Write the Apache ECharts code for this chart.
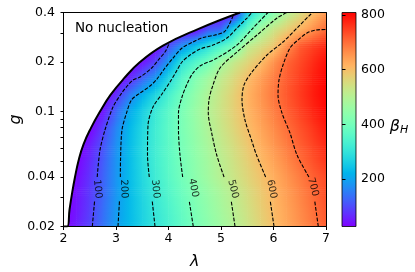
<!DOCTYPE html>
<html><head><meta charset="utf-8">
<script src="https://cdn.jsdelivr.net/npm/echarts@6/dist/echarts.min.js"></script>
<style>html,body{margin:0;padding:0;background:#fff}#c{width:415px;height:272px}</style>
</head><body><div id="c"></div>
<script>
// ---- data ----
const lambdaValues = [2.0,2.25,2.5,2.75,3.0,3.25,3.5,3.75,4.0,4.25,4.5,4.75,5.0,5.25,5.5,5.75,6.0,6.25,6.5,6.75,7.0];
const gValues = [0.02,0.0252,0.0317,0.04,0.0502,0.0632,0.0796,0.1,0.1262,0.1589,0.2,0.2518,0.317,0.4];
const betaAtG0020 = [20,57,93,141,192,230,266,301,335,369,403,435,466,498,532,566,600,630,659,688,717];
const betaAtG0025 = [20,48,87,136,188,229,268,306,341,377,412,444,476,508,540,573,605,635,664,694,723];
const betaAtG0032 = [20,44,83,128,183,229,272,312,349,386,420,452,484,516,548,580,611,641,671,701,730];
const betaAtG0040 = [20,35,76,124,181,231,277,320,360,399,435,469,504,533,562,591,621,652,682,712,735];
const betaAtG0050 = [15,25,68,118,179,231,280,323,364,403,438,473,508,540,572,604,635,667,699,728,755];
const betaAtG0063 = [15,20,54,107,174,230,280,324,365,406,444,482,518,551,585,618,651,683,714,742,770];
const betaAtG0080 = [10,15,25,87,161,225,275,322,367,410,450,491,528,564,599,632,664,697,727,755,785];
const betaAtG0100 = [10,12,20,48,129,208,261,313,362,409,454,498,536,573,609,644,678,712,742,772,800];
const betaAtG0126 = [10,10,15,22,70,150,219,275,333,394,443,491,533,573,613,650,687,720,750,780,805];
const betaAtG0159 = [10,10,12,15,20,61,127,190,275,353,418,469,517,558,600,641,681,717,747,777,805];
const betaAtG0200 = [10,10,10,12,15,20,46,95,190,297,348,398,470,522,561,599,654,706,736,766,795];
const betaAtG0252 = [10,10,10,10,12,15,20,25,100,172,233,286,339,392,508,546,585,657,717,745,770];
const betaAtG0317 = [10,10,10,10,10,10,10,10,12,15,25,110,130,280,370,470,530,571,612,655,700];
const betaAtG0400 = [10,10,10,10,10,10,10,10,10,10,10,12,15,25,265,352,429,498,549,599,650];
const betaRows = [betaAtG0020,betaAtG0025,betaAtG0032,betaAtG0040,betaAtG0050,betaAtG0063,betaAtG0080,
                  betaAtG0100,betaAtG0126,betaAtG0159,betaAtG0200,betaAtG0252,betaAtG0317,betaAtG0400];

// contour lines [lambda, g]; null = gap where the inline label sits
const contour100 = [[2.549,0.02],[2.592,0.0286],null,[2.642,0.04],[2.695,0.0583],[2.79,0.0772],[2.943,0.1065],[3.109,0.1296],[3.229,0.145],[3.324,0.1555],[3.457,0.1621],[3.68,0.1839],[3.806,0.2057],[3.933,0.23],[4.01,0.2574]];
const contour200 = [[3.038,0.02],[3.066,0.0286],null,[3.083,0.04],[3.086,0.0507],[3.114,0.0772],[3.2,0.0979],[3.295,0.1175],[3.457,0.1296],[3.648,0.1429],[3.781,0.1577],[3.933,0.1839],[4.086,0.2114],[4.257,0.2432],[4.467,0.2646],[4.657,0.2818],[4.886,0.2918],[5.057,0.3044],[5.152,0.3358],[5.229,0.3808]];
const contour300 = [[3.743,0.02],[3.69,0.0286],null,[3.634,0.04],[3.6,0.0544],[3.61,0.0828],[3.705,0.1065],[3.876,0.1278],[4.029,0.1512],[4.143,0.1739],[4.257,0.2],[4.41,0.2206],[4.6,0.2398],[4.848,0.2538],[5.114,0.2798],[5.305,0.3218],[5.495,0.3702],[5.59,0.4]];
const contour400 = [[4.472,0.02],[4.395,0.0286],null,[4.27,0.04],[4.219,0.0544],[4.19,0.0772],[4.19,0.0979],[4.257,0.1225],[4.371,0.1512],[4.467,0.1715],[4.6,0.1891],[4.924,0.2114],[5.305,0.2538],[5.61,0.3218],[5.895,0.4]];
const contour500 = [[5.267,0.02],[5.195,0.0286],null,[5.058,0.04],[4.918,0.0544],[4.823,0.074],[4.758,0.0979],[4.771,0.1175],[4.829,0.139],[4.981,0.1839],[5.305,0.23],[5.686,0.2918],[6.067,0.3702],[6.257,0.4]];
const contour600 = [[6.01,0.02],[5.938,0.0286],null,[5.85,0.04],[5.676,0.0544],[5.581,0.0671],[5.457,0.0888],[5.4,0.1175],[5.438,0.145],[5.59,0.1739],[5.876,0.2206],[6.181,0.2646],[6.505,0.3358],[6.695,0.3862],[6.752,0.4]];
const contour700 = [[6.853,0.02],[6.785,0.0286],null,[6.675,0.04],[6.448,0.0544],[6.314,0.074],[6.162,0.0979],[6.086,0.126],[6.105,0.1555],[6.181,0.1918],[6.314,0.2432],[6.467,0.2722],[6.638,0.3002],[6.81,0.313],[7.0,0.3152]];
const contourLevels = [100,200,300,400,500,600,700];
const contourLabelAt = [[2.648,0.0338],[3.152,0.0338],[3.752,0.0338],[4.476,0.0343],[5.229,0.0338],[5.966,0.0338],[6.752,0.0348]];
const noNucleationBoundary = [[2.0,0.02],[2.072,0.02],[2.114,0.0252],[2.162,0.0317],[2.219,0.04],[2.286,0.0502],[2.381,0.0632],[2.524,0.0796],[2.695,0.1],[2.895,0.1262],[3.152,0.1589],[3.457,0.2],[3.895,0.2518],[4.562,0.317],[5.362,0.4]];
const xTickValues = [2,3,4,5,6,7];
const yTickLabelValues = [0.02,0.04,0.1,0.2,0.4];
const yTickValues = [0.02,0.03,0.04,0.05,0.06,0.07,0.08,0.09,0.1,0.2,0.3,0.4];
const colorbarTicks = [200,400,600,800];
const colorRange = [26, 809];

// ---- styling / rendering ----
const FONT = 'DejaVu Sans';
const labelRotate = [-85,-88,-84,-79,-76,-79,-75];
function cmap(v){
  let t=(v-colorRange[0])/(colorRange[1]-colorRange[0]); t=Math.max(0,Math.min(1,t));
  const r=Math.min(1,Math.abs(2*t-0.5)), g=Math.max(0,Math.sin(Math.PI*t)), b=Math.max(0,Math.cos(Math.PI*t/2));
  return 'rgb('+Math.round(r*255)+','+Math.round(g*255)+','+Math.round(b*255)+')';
}
const cells=[];
for(let j=0;j<gValues.length-1;j++) for(let i=0;i<lambdaValues.length-1;i++)
  cells.push([lambdaValues[i],lambdaValues[i+1],gValues[j],gValues[j+1],
              betaRows[j][i],betaRows[j][i+1],betaRows[j+1][i],betaRows[j+1][i+1]]);

function renderCell(params, api){
  const l0=api.value(0), l1=api.value(1), g0=api.value(2), g1=api.value(3);
  const v00=api.value(4), v10=api.value(5), v01=api.value(6), v11=api.value(7);
  const pA=api.coord([l0,g0]), pB=api.coord([l1,g1]);
  const x=pA[0], w=pB[0]-pA[0], yb=pA[1], yt=pB[1];
  const N=8, ch=[];
  for(let k=0;k<N;k++){
    const ya=yb+(yt-yb)*k/N, yc=yb+(yt-yb)*(k+1)/N, tm=(k+0.5)/N;
    const vl=v00+(v01-v00)*tm, vr=v10+(v11-v10)*tm;
    ch.push({type:'rect',shape:{x:x-0.2,y:Math.min(ya,yc)-0.3,width:w+0.5,height:Math.abs(yc-ya)+0.6},
      style:{fill:{type:'linear',x:0,y:0,x2:1,y2:0,colorStops:[
        {offset:0,color:cmap(vl)},{offset:0.5,color:cmap((vl+vr)/2)},{offset:1,color:cmap(vr)}]}}});
  }
  return {type:'group',children:ch};
}
function renderBar(params, api){
  const p0=api.coord([api.value(0),api.value(2)]), p1=api.coord([api.value(1),api.value(3)]);
  const stops=[]; for(let k=0;k<=32;k++){stops.push({offset:k/32,color:cmap(colorRange[0]+(colorRange[1]-colorRange[0])*k/32)});}
  return {type:'rect',shape:{x:p0[0],y:p1[1],width:p1[0]-p0[0],height:p0[1]-p1[1]},
    style:{fill:{type:'linear',x:0,y:1,x2:0,y2:0,colorStops:stops},stroke:'#000',lineWidth:0.8}};
}
function segments(c){const out=[];let cur=[];c.forEach(p=>{if(p===null){out.push(cur);cur=[];}else cur.push(p);});out.push(cur);return out;}

const contours=[contour100,contour200,contour300,contour400,contour500,contour600,contour700];
const series=[{type:'custom',renderItem:renderCell,data:cells,xAxisIndex:0,yAxisIndex:0,z:1,silent:true,animation:false}];
contours.forEach(c=>segments(c).forEach(seg=>series.push({type:'line',data:seg,xAxisIndex:0,yAxisIndex:0,symbol:'none',smooth:0.3,z:3,silent:true,animation:false,
  lineStyle:{color:'#000',width:1.1,type:[3.7,1.6]}})));
series.push({type:'line',data:noNucleationBoundary,xAxisIndex:0,yAxisIndex:0,symbol:'none',smooth:0.45,z:4,silent:true,animation:false,
  lineStyle:{color:'#000',width:2},areaStyle:{color:'#fff',opacity:1,origin:'end'}});
series.push({type:'scatter',xAxisIndex:0,yAxisIndex:0,z:5,silent:true,animation:false,symbolSize:1,itemStyle:{color:'rgba(0,0,0,0)'},
  data:contourLabelAt.map((p,i)=>({value:p,label:{show:true,position:'inside',formatter:String(contourLevels[i]),rotate:labelRotate[i],
    fontSize:10,fontFamily:FONT,color:'#000'}}))});
series.push({type:'custom',renderItem:renderBar,data:[[0,1,colorRange[0],colorRange[1]]],xAxisIndex:2,yAxisIndex:2,z:2,silent:true,animation:false});

const tickFont={fontSize:12.5,fontFamily:FONT,color:'#000'};
const chart=echarts.init(document.getElementById('c'),null,{renderer:'canvas'});
chart.setOption({
  animation:false,
  textStyle:{fontFamily:FONT},
  grid:[{left:63.5,top:12.5,width:262.5,height:214,outerBoundsMode:'none'},
        {left:342,top:12.5,width:14,height:214,outerBoundsMode:'none'}],
  xAxis:[
    {type:'value',gridIndex:0,min:2,max:7,interval:1,position:'bottom',z:10,
     axisLine:{show:true,onZero:false,lineStyle:{color:'#000',width:1}},
     axisTick:{show:true,length:3.5,lineStyle:{color:'#000'}},
     axisLabel:Object.assign({margin:5.5,customValues:xTickValues},tickFont),splitLine:{show:false},
     name:'λ',nameLocation:'middle',nameGap:27,nameTextStyle:{fontSize:16,fontStyle:'italic',fontFamily:FONT,color:'#000'}},
    {type:'value',gridIndex:0,min:2,max:7,position:'top',z:10,
     axisLine:{show:true,onZero:false,lineStyle:{color:'#000',width:1}},axisTick:{show:false},axisLabel:{show:false},splitLine:{show:false}},
    {type:'value',gridIndex:1,min:0,max:1,show:false}
  ],
  yAxis:[
    {type:'log',logBase:10,gridIndex:0,min:0.02,max:0.4,position:'left',z:10,
     axisLine:{show:true,onZero:false,lineStyle:{color:'#000',width:1}},
     axisTick:{show:true,length:3,customValues:yTickValues,lineStyle:{color:'#000'}},
     minorTick:{show:false},
     axisLabel:Object.assign({margin:8.5,customValues:yTickLabelValues,formatter:v=>String(+(+v).toPrecision(2))},tickFont),
     splitLine:{show:false},
     name:'g',nameLocation:'middle',nameGap:40,nameMoveOverlap:false,nameTextStyle:{fontSize:16,fontStyle:'italic',fontFamily:FONT,color:'#000'}},
    {type:'log',logBase:10,gridIndex:0,min:0.02,max:0.4,position:'right',z:10,
     axisLine:{show:true,onZero:false,lineStyle:{color:'#000',width:1}},axisTick:{show:false},axisLabel:{show:false},splitLine:{show:false}},
    {type:'value',gridIndex:1,min:colorRange[0],max:colorRange[1],position:'right',z:10,
     axisLine:{show:false},axisTick:{show:true,length:3.5,customValues:colorbarTicks,lineStyle:{color:'#000'}},
     axisLabel:Object.assign({margin:5,customValues:colorbarTicks},tickFont),splitLine:{show:false},
     name:'{b|β}{s|H}',nameLocation:'middle',nameRotate:0,nameGap:31,
     nameTextStyle:{align:'left',padding:[14,0,0,0],rich:{b:{fontSize:16,fontStyle:'italic',fontFamily:FONT,color:'#000'},
                                      s:{fontSize:11,fontStyle:'italic',fontFamily:FONT,color:'#000',padding:[8,0,0,0]}}}}
  ],
  graphic:[{type:'text',left:75,top:21.5,z:100,style:{text:'No nucleation',fontSize:13.5,fontFamily:FONT,fill:'#000'}}],
  series:series
});
</script></body></html>
